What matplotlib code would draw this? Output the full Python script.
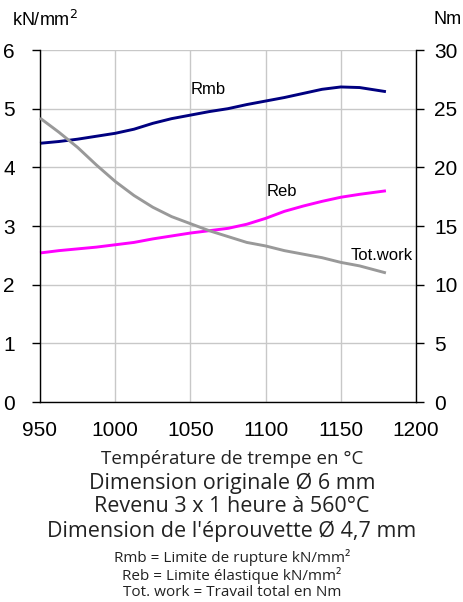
import matplotlib
matplotlib.use("Agg")
import matplotlib.pyplot as plt

temps = [950, 962.5, 975, 987.5, 1000, 1012.5, 1025, 1037.5, 1050, 1062.5, 1075, 1087.5, 1100, 1112.5, 1125, 1137.5, 1150, 1162.5, 1180]
rmb = [4.41, 4.44, 4.48, 4.53, 4.58, 4.65, 4.75, 4.83, 4.89, 4.95, 5.00, 5.07, 5.13, 5.19, 5.26, 5.33, 5.37, 5.36, 5.29]
reb = [2.54, 2.58, 2.61, 2.64, 2.68, 2.72, 2.78, 2.83, 2.88, 2.92, 2.96, 3.03, 3.13, 3.25, 3.34, 3.42, 3.49, 3.54, 3.60]
totwork = [24.2, 23.0, 21.7, 20.2, 18.8, 17.6, 16.6, 15.8, 15.2, 14.6, 14.1, 13.6, 13.3, 12.9, 12.6, 12.3, 11.9, 11.6, 11.0]

xticks = [950, 1000, 1050, 1100, 1150, 1200]
lticks = [0, 1, 2, 3, 4, 5, 6]
rticks = [0, 5, 10, 15, 20, 25, 30]

sans = ["Liberation Sans", "DejaVu Sans"]
geo = ["Open Sans", "DejaVu Sans"]

fig = plt.figure(figsize=(4.64, 6.02), dpi=100)
ax = fig.add_axes([40/464, 1-402/602, 376/464, 352/602])
ax2 = ax.twinx()

ax.set_xlim(950, 1200)
ax.set_ylim(0, 6)
ax2.set_ylim(0, 30)
ax.set_xticks(xticks)
ax.set_yticks(lticks)
ax2.set_yticks(rticks)

ax.grid(True, color="#c8c8c8", linewidth=1.0)
ax.set_axisbelow(True)

for a in (ax, ax2):
    a.spines["top"].set_visible(False)
    for s in ("left", "right", "bottom"):
        a.spines[s].set_color("black")
        a.spines[s].set_linewidth(1.0)
ax.spines["right"].set_visible(False)
ax2.spines["left"].set_visible(False)
ax2.spines["bottom"].set_visible(False)

ax.tick_params(axis="y", direction="out", length=6, width=1, labelsize=15, pad=12)
ax.tick_params(axis="x", length=0, labelsize=15, pad=14)
ax2.tick_params(axis="y", direction="out", length=6, width=1, labelsize=15, pad=7)
for lab in ax.get_xticklabels() + ax.get_yticklabels() + ax2.get_yticklabels():
    lab.set_family(sans)

ax.plot(temps, rmb, color="#000080", linewidth=2.1, solid_capstyle="butt", clip_on=False)
ax.plot(temps, reb, color="#ff00ff", linewidth=2.1, solid_capstyle="butt", clip_on=False)
ax2.plot(temps, totwork, color="#999999", linewidth=2.1, solid_capstyle="butt", clip_on=False)

ax.text(1062, 5.33, "Rmb", fontsize=12, family=sans, ha="center", va="center")
ax.text(1111, 3.58, "Reb", fontsize=12, family=sans, ha="center", va="center")
ax.text(1177, 2.5, "Tot.work", fontsize=12, family=sans, ha="center", va="center")

fig.text(12/464, 1-20/602, "kN/mm$^2$", fontsize=13, family=sans, ha="left", va="center")
fig.text(448/464, 1-20/602, "Nm", fontsize=13, family=sans, ha="center", va="center")

fig.text(0.5, 1-459/602, "Température de trempe en °C", fontsize=13.5, family=geo, ha="center", va="center", color="#222222")
fig.text(0.5, 1-483/602, "Dimension originale Ø 6 mm", fontsize=15.5, family=geo, ha="center", va="center", color="#222222")
fig.text(0.5, 1-506/602, "Revenu 3 x 1 heure à 560°C", fontsize=15.5, family=geo, ha="center", va="center", color="#222222")
fig.text(0.5, 1-531/602, "Dimension de l'éprouvette Ø 4,7 mm", fontsize=15.5, family=geo, ha="center", va="center", color="#222222")
fig.text(0.5, 1-557/602, "Rmb = Limite de rupture kN/mm²", fontsize=11, family=geo, ha="center", va="center", color="#222222")
fig.text(0.5, 1-576/602, "Reb = Limite élastique kN/mm²", fontsize=11, family=geo, ha="center", va="center", color="#222222")
fig.text(0.5, 1-593/602, "Tot. work = Travail total en Nm", fontsize=11, family=geo, ha="center", va="center", color="#222222")

fig.savefig("out.png", dpi=100)
